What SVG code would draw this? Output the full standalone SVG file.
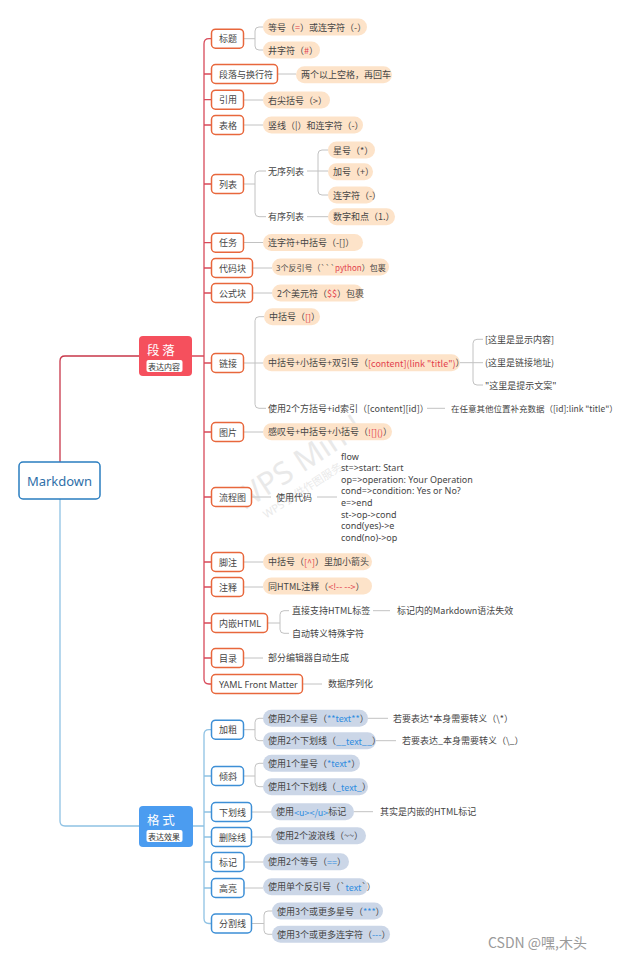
<svg xmlns="http://www.w3.org/2000/svg" width="640" height="962" viewBox="0 0 640 962">
<style>
text{font-family:"Noto Sans CJK SC","Noto Sans",sans-serif;font-size:9px;fill:#454545;dominant-baseline:central}
.n{fill:#fff;stroke:#e8673c;stroke-width:1.5}
.nb{fill:#fff;stroke:#3d8fd6;stroke-width:1.5}
.p{fill:#fde3c9}
.pb{fill:#cbd6e7}
.r{fill:#e23e4c}
.b{fill:#2f8de0}
.c{fill:none;stroke:#c2c2c2;stroke-width:1}
.fl{font-family:"Noto Sans","Noto Sans CJK SC",sans-serif;font-size:9px}
.wm{font-family:"Noto Sans","Noto Sans CJK SC",sans-serif;fill:#d0d0d0;opacity:.45}
</style>
<rect width="640" height="962" fill="#fff"/>
<g id="connectors">
<path d="M60,462 V361 Q60,356 65,356 H139" fill="none" stroke="#c8374a" stroke-width="1.3"/>
<path d="M60,499 V821 Q60,826 65,826 H139" fill="none" stroke="#8fc2e4" stroke-width="1.3"/>
<path d="M192,356 H204 M211,38.7 H209 Q204,38.7 204,43.7 V679 Q204,684 209,684 H211 M204,74 H211 M204,99.7 H211 M204,125 H211 M204,184 H211 M204,242.7 H211 M204,268 H211 M204,293 H211 M204,363 H211 M204,432 H211 M204,497 H211 M204,562 H211 M204,587 H211 M204,623 H211 M204,658 H211" fill="none" stroke="#d84a5a" stroke-width="1.3"/>
<path d="M193,826 H204 M211,729.7 H209 Q204,729.7 204,734.7 V918.5 Q204,923.5 209,923.5 H211 M204,776 H211 M204,812 H211 M204,837 H211 M204,862 H211 M204,888 H211" fill="none" stroke="#8fc2e4" stroke-width="1.3"/>
<path class="c" d="M243,38.7 H255 M263,27 H259 Q255,27 255,31 V46 Q255,50 259,50 H263"/>
<path class="c" d="M277,74 H296 M243,100 H263 M243,125 H263"/>
<path class="c" d="M243,184 H255 M266,171 H259 Q255,171 255,175 V212.7 Q255,216.7 259,216.7 H266"/>
<path class="c" d="M307,171 H328 M328,150 H322 Q318,150 318,154 V191 Q318,195 322,195 H328 M307,216.7 H328"/>
<path class="c" d="M243,242.5 H263 M252,268 H272 M252,293 H272"/>
<path class="c" d="M243,363 H263 M264,316.7 H259 Q255,316.7 255,320.7 V404.3 Q255,408.3 259,408.3 H266"/>
<path class="c" d="M460,362.7 H483 M483,339.3 H477 Q473,339.3 473,343.3 V381 Q473,385 477,385 H483 M427,408.3 H445"/>
<path class="c" d="M243,432 H263 M252,497 H271 M317,497 H337 M243,562 H263 M243,587 H263"/>
<path class="c" d="M267,623 H280 M289,610.7 H284 Q280,610.7 280,614.7 V629.3 Q280,633.3 284,633.3 H289 M373,610.7 H390"/>
<path class="c" d="M243,658 H263 M303,684 H322"/>
<path class="c" d="M243,729.7 H255 M263,718.3 H259 Q255,718.3 255,722.3 V736.7 Q255,740.7 259,740.7 H263 M368,718.3 H388 M376,740.7 H396"/>
<path class="c" d="M243,776 H255 M263,763.3 H259 Q255,763.3 255,767.3 V782.7 Q255,786.7 259,786.7 H263"/>
<path class="c" d="M252,812 H271 M354,811.7 H373 M252,837 H271 M244,862 H263 M244,888 H263"/>
<path class="c" d="M252,923.5 H264 M272,911 H268 Q264,911 264,915 V930.3 Q264,934.3 268,934.3 H272"/>
</g>
<g id="watermark" transform="rotate(-33 300 470)">
<text class="wm" x="228" y="462" style="font-size:31px">WPS Mind</text>
<text class="wm" x="245" y="488" style="font-size:11px">WPS 提供作图服务</text>
</g>
<g id="root">
<rect x="19" y="462" width="81" height="37" rx="4" fill="#fff" stroke="#2a7dc0" stroke-width="1.5"/>
<text x="59.5" y="480.5" text-anchor="middle" style="font-size:13px;fill:#2f6fa8;font-family:'Noto Sans',sans-serif">Markdown</text>
</g>
<g id="sec-duanluo">
<rect x="139" y="336" width="53" height="40" rx="4" fill="#f5505d"/>
<text x="147" y="349" style="font-size:12.5px;fill:#fff">段 落</text>
<rect x="146.5" y="360" width="36" height="12" rx="2" fill="#fff"/>
<text x="148" y="366" style="font-size:8px;fill:#333">表达内容</text>
</g>
<g id="sec-geshi">
<rect x="139" y="806" width="54" height="41" rx="4" fill="#4b9cf0"/>
<text x="147" y="819" style="font-size:12.5px;fill:#fff">格 式</text>
<rect x="146.5" y="830" width="36" height="12" rx="2" fill="#fff"/>
<text x="148" y="836" style="font-size:8px;fill:#333">表达效果</text>
</g>
<g id="n-biaoti"><rect class="n" x="211.5" y="29.2" width="32" height="19" rx="4"/><text x="219" y="38.7">标题</text></g>
<g id="l-dengjhao"><rect class="p" x="263" y="18.5" width="104" height="17" rx="8.5"/><text x="268" y="27">等号（<tspan class="r">=</tspan>）或连字符（-）</text></g>
<g id="l-jing"><rect class="p" x="263" y="41.5" width="57" height="17" rx="8.5"/><text x="268" y="50">井字符（<tspan class="r">#</tspan>）</text></g>
<g id="n-duanluo"><rect class="n" x="211.5" y="64.5" width="66" height="19" rx="4"/><text x="219" y="74">段落与换行符</text></g>
<g id="l-kongge"><rect class="p" x="296" y="66.2" width="96" height="17" rx="8.5"/><text x="301" y="74.7">两个以上空格，再回车</text></g>
<g id="n-yinyong"><rect class="n" x="211.5" y="90.2" width="32" height="19" rx="4"/><text x="219" y="99.7">引用</text></g>
<g id="l-jian"><rect class="p" x="263" y="91.5" width="67" height="17" rx="8.5"/><text x="268" y="100">右尖括号（&gt;）</text></g>
<g id="n-biaoge"><rect class="n" x="211.5" y="115.5" width="32" height="19" rx="4"/><text x="219" y="125">表格</text></g>
<g id="l-shuxian"><rect class="p" x="263" y="116.5" width="100" height="17" rx="8.5"/><text x="268" y="125">竖线（|）和连字符（-）</text></g>
<g id="n-liebiao"><rect class="n" x="211.5" y="174.5" width="32" height="19" rx="4"/><text x="219" y="184">列表</text></g>
<g id="l-wuxu"><text x="268" y="171">无序列表</text></g>
<g id="l-youxu"><text x="268" y="216.7">有序列表</text></g>
<g id="l-xing"><rect class="p" x="328" y="141.5" width="47" height="17" rx="8.5"/><text x="333" y="150">星号（*）</text></g>
<g id="l-jia"><rect class="p" x="328" y="163.2" width="45" height="17" rx="8.5"/><text x="333" y="171.7">加号（+）</text></g>
<g id="l-lian"><rect class="p" x="328" y="186.5" width="47" height="17" rx="8.5"/><text x="333" y="195">连字符（-）</text></g>
<g id="l-shuzi"><rect class="p" x="328" y="208.2" width="67" height="17" rx="8.5"/><text x="333" y="216.7">数字和点（1.）</text></g>
<g id="n-renwu"><rect class="n" x="211.5" y="233.2" width="32" height="19" rx="4"/><text x="219" y="242.7">任务</text></g>
<g id="l-renwu"><rect class="p" x="263" y="234" width="100" height="17" rx="8.5"/><text x="268" y="242.5">连字符+中括号（-[]）</text></g>
<g id="n-daima"><rect class="n" x="211.5" y="258.5" width="41" height="19" rx="4"/><text x="219" y="268">代码块</text></g>
<g id="l-daima"><rect class="p" x="272" y="258.5" width="117" height="17" rx="8.5"/><text x="276" y="267" style="font-size:8px">3个反引号（```<tspan class="r">python</tspan>）包裹</text></g>
<g id="n-gongshi"><rect class="n" x="211.5" y="283.5" width="41" height="19" rx="4"/><text x="219" y="293">公式块</text></g>
<g id="l-gongshi"><rect class="p" x="272" y="284.5" width="91" height="17" rx="8.5"/><text x="277" y="293">2个美元符（<tspan class="r">$$</tspan>）包裹</text></g>
<g id="n-lianjie"><rect class="n" x="211.5" y="353.5" width="32" height="19" rx="4"/><text x="219" y="363">链接</text></g>
<g id="l-zhongkuo"><rect class="p" x="264" y="308.2" width="56" height="17" rx="8.5"/><text x="269" y="316.7">中括号（<tspan class="r">[]</tspan>）</text></g>
<g id="l-link"><rect class="p" x="263" y="354.2" width="197" height="17" rx="8.5"/><text x="268" y="362.7">中括号+小括号+双引号（<tspan class="r">[content](link "title")</tspan>）</text></g>
<g id="l-show"><text x="485" y="339.3">[这里是显示内容]</text></g>
<g id="l-addr"><text x="485" y="362.7">(这里是链接地址)</text></g>
<g id="l-tip"><text x="485" y="385">"这里是提示文案"</text></g>
<g id="l-idref"><text x="268" y="408.3">使用2个方括号+id索引（[content][id]）</text></g>
<g id="l-idref2"><text x="451" y="408.3" style="font-size:8.5px">在任意其他位置补充数据（[id]:link "title"）</text></g>
<g id="n-tupian"><rect class="n" x="211.5" y="422.5" width="32" height="19" rx="4"/><text x="219" y="432">图片</text></g>
<g id="l-tupian"><rect class="p" x="263" y="423.2" width="129" height="17" rx="8.5"/><text x="268" y="431.7">感叹号+中括号+小括号（<tspan class="r">![]()</tspan>）</text></g>
<g id="n-liucheng"><rect class="n" x="211.5" y="487.5" width="40" height="19" rx="4"/><text x="219" y="497">流程图</text></g>
<g id="l-shiyong"><text x="276" y="497">使用代码</text></g>
<g id="l-flow">
<text class="fl" x="341" y="456">flow</text>
<text class="fl" x="341" y="467.7">st=&gt;start: Start</text>
<text class="fl" x="341" y="479.2">op=&gt;operation: Your Operation</text>
<text class="fl" x="341" y="490.8">cond=&gt;condition: Yes or No?</text>
<text class="fl" x="341" y="502.4">e=&gt;end</text>
<text class="fl" x="341" y="514">st-&gt;op-&gt;cond</text>
<text class="fl" x="341" y="525.5">cond(yes)-&gt;e</text>
<text class="fl" x="341" y="537">cond(no)-&gt;op</text>
</g>
<g id="n-jiaozhu"><rect class="n" x="211.5" y="552.5" width="32" height="19" rx="4"/><text x="219" y="562">脚注</text></g>
<g id="l-jiaozhu"><rect class="p" x="263" y="553.2" width="109" height="17" rx="8.5"/><text x="268" y="561.7">中括号（<tspan class="r">[^]</tspan>）里加小箭头</text></g>
<g id="n-zhushi"><rect class="n" x="211.5" y="577.5" width="32" height="19" rx="4"/><text x="219" y="587">注释</text></g>
<g id="l-zhushi"><rect class="p" x="263" y="577.5" width="109" height="17" rx="8.5"/><text x="268" y="586">同HTML注释（<tspan class="r">&lt;!-- --&gt;</tspan>）</text></g>
<g id="n-html"><rect class="n" x="211.5" y="613.5" width="56" height="19" rx="4"/><text x="219" y="623">内嵌HTML</text></g>
<g id="l-html1"><text x="292" y="610.7">直接支持HTML标签</text></g>
<g id="l-html2"><text x="292" y="633.3">自动转义特殊字符</text></g>
<g id="l-html3"><text x="397" y="610.7">标记内的Markdown语法失效</text></g>
<g id="n-mulu"><rect class="n" x="211.5" y="648.5" width="32" height="19" rx="4"/><text x="219" y="658">目录</text></g>
<g id="l-mulu"><text x="268" y="657.5">部分编辑器自动生成</text></g>
<g id="n-yaml"><rect class="n" x="211.5" y="674.5" width="91" height="19" rx="4"/><text x="219" y="684" style="font-family:'Noto Sans',sans-serif">YAML Front Matter</text></g>
<g id="l-yaml"><text x="328" y="683.5">数据序列化</text></g>
<g id="n-jiacu"><rect class="nb" x="211.5" y="720.2" width="32" height="19" rx="4"/><text x="219" y="729.7">加粗</text></g>
<g id="l-jiacu1"><rect class="pb" x="263" y="709.8" width="105" height="17" rx="8.5"/><text x="268" y="718.3">使用2个星号（<tspan class="b">**text**</tspan>）</text></g>
<g id="l-jiacu2"><rect class="pb" x="263" y="732.2" width="113" height="17" rx="8.5"/><text x="268" y="740.7">使用2个下划线（<tspan class="b">__text__</tspan>）</text></g>
<g id="l-jiacu3"><text x="393" y="718.3">若要表达*本身需要转义（\*）</text></g>
<g id="l-jiacu4"><text x="402" y="740.7">若要表达_本身需要转义（\_）</text></g>
<g id="n-qingxie"><rect class="nb" x="211.5" y="766.5" width="32" height="19" rx="4"/><text x="219" y="776">倾斜</text></g>
<g id="l-qx1"><rect class="pb" x="263" y="754.8" width="97" height="17" rx="8.5"/><text x="268" y="763.3">使用1个星号（<tspan class="b">*text*</tspan>）</text></g>
<g id="l-qx2"><rect class="pb" x="263" y="778.2" width="105" height="17" rx="8.5"/><text x="268" y="786.7">使用1个下划线（<tspan class="b">_text_</tspan>）</text></g>
<g id="n-xiahua"><rect class="nb" x="211.5" y="802.5" width="40" height="19" rx="4"/><text x="219" y="812">下划线</text></g>
<g id="l-xh1"><rect class="pb" x="271" y="803.2" width="83" height="17" rx="8.5"/><text x="276" y="811.7">使用<tspan class="b">&lt;u&gt;&lt;/u&gt;</tspan>标记</text></g>
<g id="l-xh2"><text x="380" y="811.7">其实是内嵌的HTML标记</text></g>
<g id="n-shanchu"><rect class="nb" x="211.5" y="827.5" width="40" height="19" rx="4"/><text x="219" y="837">删除线</text></g>
<g id="l-sc"><rect class="pb" x="271" y="827.2" width="95" height="17" rx="8.5"/><text x="276" y="835.7">使用2个波浪线（~~）</text></g>
<g id="n-biaoji"><rect class="nb" x="211.5" y="852.5" width="32.5" height="19" rx="4"/><text x="219" y="862">标记</text></g>
<g id="l-bj"><rect class="pb" x="263" y="853.2" width="86" height="17" rx="8.5"/><text x="268" y="861.7">使用2个等号（<tspan class="b">==</tspan>）</text></g>
<g id="n-gaoliang"><rect class="nb" x="211.5" y="878.5" width="32.5" height="19" rx="4"/><text x="219" y="888">高亮</text></g>
<g id="l-gl"><rect class="pb" x="263" y="878.2" width="105" height="17" rx="8.5"/><text x="268" y="886.7">使用单个反引号（`<tspan class="b">text</tspan>`）</text></g>
<g id="n-fenge"><rect class="nb" x="211.5" y="914" width="40" height="19" rx="4"/><text x="219" y="923.5">分割线</text></g>
<g id="l-fg1"><rect class="pb" x="272" y="902.5" width="111" height="17" rx="8.5"/><text x="277" y="911">使用3个或更多星号（<tspan class="b">***</tspan>）</text></g>
<g id="l-fg2"><rect class="pb" x="272" y="925.8" width="118" height="17" rx="8.5"/><text x="277" y="934.3">使用3个或更多连字符（<tspan class="b">---</tspan>）</text></g>
<g id="credit"><text x="488" y="942" style="font-size:14px;fill:#9a9a9a">CSDN @嘿,木头</text></g>
</svg>
